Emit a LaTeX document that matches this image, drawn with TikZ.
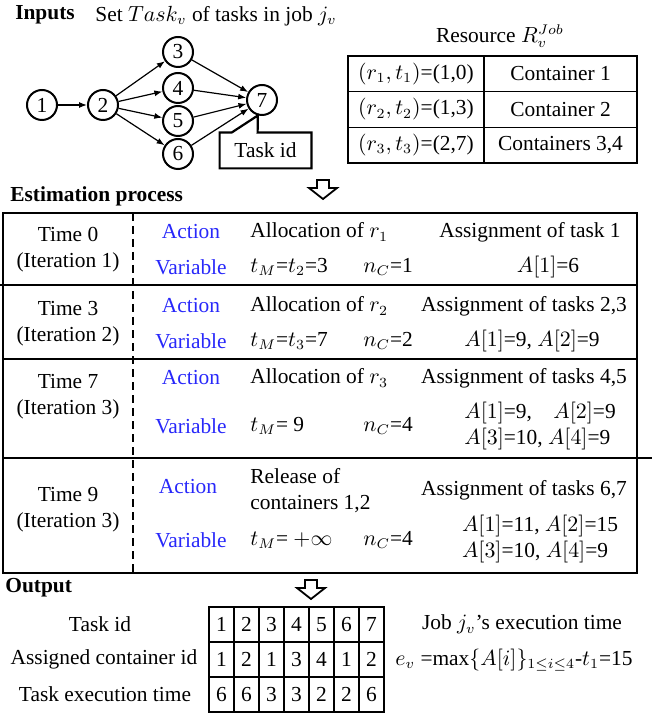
\documentclass[tikz,border=0pt]{standalone}
\usepackage{fontspec}
\setmainfont{Liberation Serif}
\usepackage{tikz}
\usetikzlibrary{arrows.meta, calc}
\definecolor{actblue}{RGB}{40,40,250}
\tikzset{
    txt/.style={inner sep=0pt, align=center, font=\fontsize{10.7}{13}\selectfont},
    head/.style={txt, font=\fontsize{10.7}{13}\selectfont\bfseries},
    lbl/.style={txt, text=actblue},
    task/.style={circle, draw, line width=1pt, minimum size=15pt, inner sep=0pt, font=\fontsize{10.7}{13}\selectfont},
    arrow/.style={-{Latex[length=4pt, width=3pt]}, line width=0.6pt},
    callout/.style={line width=1.1pt, line join=miter},
    rescell/.style={txt, draw, line width=0.7pt, minimum height=17.8pt},
    outcell/.style={txt, draw, line width=0.6pt, minimum width=12.5pt, minimum height=17.5pt},
    frame/.style={line width=1.3pt},
    rowline/.style={line width=0.9pt},
    sepline/.style={line width=0.8pt, dash pattern=on 4pt off 2.5pt},
    bigarrow/.style={line width=0.9pt, line join=miter},
}
\begin{document}
\begin{tikzpicture}[x=0.5pt, y=-0.5pt]
    \useasboundingbox (0,0) rectangle (655,715);

    % inputs: task graph
    \node[head] (inputs) at (45,15) {Inputs};
    \node[txt] (setlbl) at (216,16) {Set $Task_v$ of tasks in job $j_v$};
    \node[task] (t1) at (42,105) {1};
    \node[task] (t2) at (103,105) {2};
    \node[task] (t3) at (178,52) {3};
    \node[task] (t4) at (178,88) {4};
    \node[task] (t5) at (178,121) {5};
    \node[task] (t6) at (178,154) {6};
    \node[task] (t7) at (262,100) {7};
    \draw[arrow] (t1) -- (t2);
    \foreach \i in {3,...,6} {
        \draw[arrow] (t2) -- (t\i);
        \draw[arrow] (t\i) -- (t7);
    }
    \node[txt, minimum width=45.5pt, minimum height=17.5pt] (tid) at (265.5,150.5) {Task id};
    \draw[callout] (tid.north west) -- ($(tid.north west)+(12,0)$) -- (t7.255)
        -- ($(tid.north west)+(38,0)$) -- (tid.north east) -- (tid.south east)
        -- (tid.south west) -- cycle;

    % inputs: resource table
    \node[txt] (reslbl) at (500,36) {Resource $R_v^{Job}$};
    \node[rescell, minimum width=68pt] (r1) at (416,73.8) {$(r_1,t_1)$=(1,0)};
    \node[rescell, minimum width=68pt] (r2) at (416,109.5) {$(r_2,t_2)$=(1,3)};
    \node[rescell, minimum width=68pt] (r3) at (416,145.2) {$(r_3,t_3)$=(2,7)};
    \node[rescell, minimum width=76.5pt] (c1) at (560.5,73.8) {Container 1};
    \node[rescell, minimum width=76.5pt] (c2) at (560.5,109.5) {Container 2};
    \node[rescell, minimum width=76.5pt] (c3) at (560.5,145.2) {Containers 3,4};

    \draw[bigarrow, shift={(323,180)}] (-6,0) -- (6,0) -- (6,8) -- (14,8) -- (0,19)
        -- (-14,8) -- (-6,8) -- cycle;

    % estimation process
    \node[head, anchor=west] (est) at (10,196) {Estimation process};
    \draw[frame] (3,213) rectangle (637,573);
    \draw[rowline] (0,285) -- (637,285);
    \draw[rowline] (3,359) -- (637,359);
    \draw[rowline] (3,458) -- (652,458);
    \draw[sepline] (133,213) -- (133,573);

    \node[txt] (time0) at (68,250) {Time 0\\(Iteration 1)};
    \node[lbl] (act0) at (191,232) {Action};
    \node[lbl] (var0) at (191,267) {Variable};
    \node[txt, anchor=west] (alloc0) at (250,232) {Allocation of $r_1$};
    \node[txt, anchor=west] (tm0) at (250,267) {$t_M$=$t_2$=3};
    \node[txt, anchor=west] (nc0) at (363,267) {$n_C$=1};
    \node[txt] (asg0) at (530,232) {Assignment of task 1};
    \node[txt] (aa0) at (548,267) {$A[1]$=6};

    \node[txt] (time3) at (68,324) {Time 3\\(Iteration 2)};
    \node[lbl] (act3) at (191,306) {Action};
    \node[lbl] (var3) at (191,341) {Variable};
    \node[txt, anchor=west] (alloc3) at (250,306) {Allocation of $r_2$};
    \node[txt, anchor=west] (tm3) at (250,341) {$t_M$=$t_3$=7};
    \node[txt, anchor=west] (nc3) at (363,341) {$n_C$=2};
    \node[txt] (asg3) at (524,306) {Assignment of tasks 2,3};
    \node[txt] (aa3) at (532,341) {$A[1]$=9, $A[2]$=9};

    \node[txt] (time7) at (68,397) {Time 7\\(Iteration 3)};
    \node[lbl] (act7) at (191,378) {Action};
    \node[lbl] (var7) at (191,426) {Variable};
    \node[txt, anchor=west] (alloc7) at (250,378) {Allocation of $r_3$};
    \node[txt, anchor=west] (tm7) at (250,426) {$t_M$= 9};
    \node[txt, anchor=west] (nc7) at (363,426) {$n_C$=4};
    \node[txt] (asg7) at (524,378) {Assignment of tasks 4,5};
    \node[txt, align=left] (aa7) at (540,426) {$A[1]$=9,\hphantom{0}\ \ $A[2]$=9\\$A[3]$=10, $A[4]$=9};

    \node[txt] (time9) at (68,510) {Time 9\\(Iteration 3)};
    \node[lbl] (act9) at (188,487) {Action};
    \node[lbl] (var9) at (191,540) {Variable};
    \node[txt, anchor=west, align=left] (rel9) at (250,491) {Release of\\containers 1,2};
    \node[txt, anchor=west] (tm9) at (250,540) {$t_M$= $+\infty$};
    \node[txt, anchor=west] (nc9) at (363,540) {$n_C$=4};
    \node[txt] (asg9) at (524,490) {Assignment of tasks 6,7};
    \node[txt, align=left] (aa9) at (540,539) {$A[1]$=11, $A[2]$=15\\$A[3]$=10, $A[4]$=9};

    % output
    \draw[bigarrow, shift={(311,580)}] (-6,0) -- (6,0) -- (6,8) -- (14,8) -- (0,19)
        -- (-14,8) -- (-6,8) -- cycle;
    \node[head, anchor=west] (out) at (5,588) {Output};
    \node[txt] (idlbl) at (100,624.5) {Task id};
    \node[txt] (cnlbl) at (104,659.5) {Assigned container id};
    \node[txt] (etlbl) at (105,694.5) {Task execution time};
    \foreach \v [count=\i] in {1,...,7}
        \node[outcell] (id\i) at ({196.5+25*\i},624.5) {\v};
    \foreach \v [count=\i] in {1,2,1,3,4,1,2}
        \node[outcell] (cn\i) at ({196.5+25*\i},659.5) {\v};
    \foreach \v [count=\i] in {6,6,3,3,2,2,6}
        \node[outcell] (et\i) at ({196.5+25*\i},694.5) {\v};
    \node[txt] (joblbl) at (522,624.5) {Job $j_v$’s execution time};
    \node[txt] (ev) at (514,660) {$e_v$ =max$\{A[i]\}_{1\leq i\leq 4}$-$t_1$=15};
\end{tikzpicture}
\end{document}
